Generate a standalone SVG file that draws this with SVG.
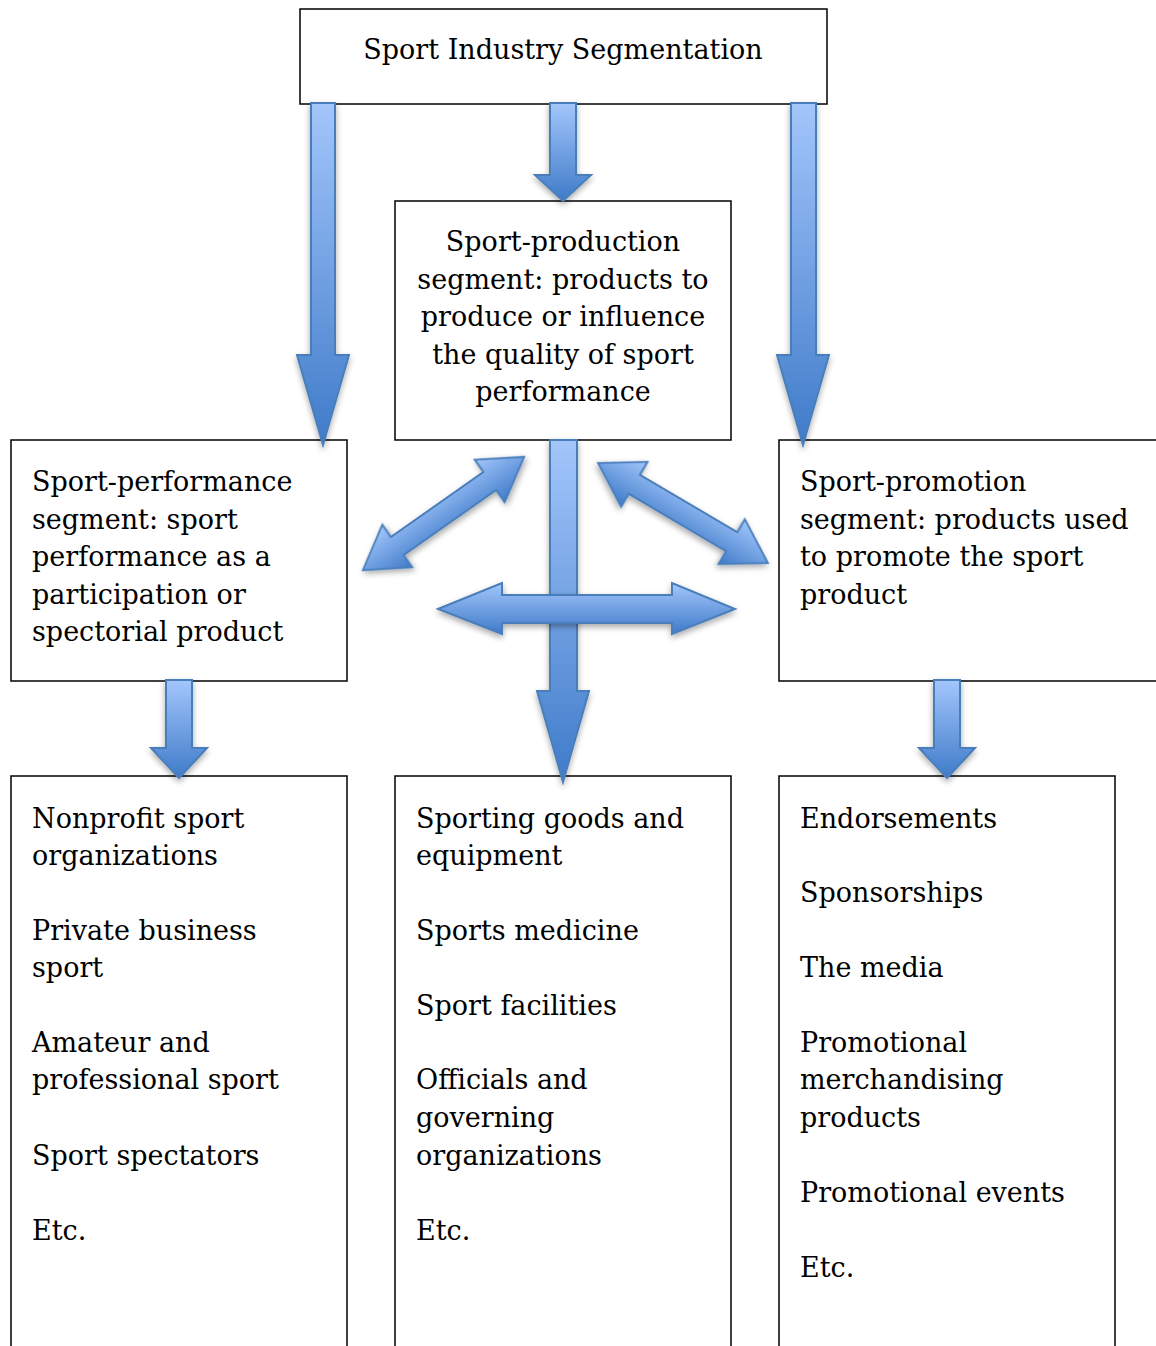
<svg xmlns="http://www.w3.org/2000/svg" width="1156" height="1346" viewBox="0 0 1156 1346">
<style>
.box{fill:#fff;stroke:#000;stroke-width:1.5}
.t{font-family:"DejaVu Serif","Liberation Serif",serif;font-size:27px;fill:#000}
.c{text-anchor:middle}
.arr{fill:url(#gv);stroke:#4a7ebb;stroke-width:2;stroke-linejoin:miter;filter:url(#sh)}
.arrh{fill:url(#gh);stroke:#4a7ebb;stroke-width:2;filter:url(#sh)}
</style>
<defs>
<linearGradient id="gv" x1="0" y1="0" x2="0" y2="1">
<stop offset="0" stop-color="#a3c6fb"/>
<stop offset="1" stop-color="#3f7bc9"/>
</linearGradient>
<linearGradient id="gh" x1="0" y1="0" x2="0" y2="1">
<stop offset="0" stop-color="#a3c6fb"/>
<stop offset="1" stop-color="#3f7bc9"/>
</linearGradient>
<filter id="sh" x="-20%" y="-20%" width="140%" height="140%">
<feGaussianBlur in="SourceAlpha" stdDeviation="3"/>
<feOffset dx="0" dy="3" result="b"/>
<feComponentTransfer><feFuncA type="linear" slope="0.35"/></feComponentTransfer>
<feMerge><feMergeNode/><feMergeNode in="SourceGraphic"/></feMerge>
</filter>
</defs>

<g id="node-top">
<rect class="box" x="300" y="9" width="527" height="95"/>
<text class="t c" x="563" y="59">Sport Industry Segmentation</text>
</g>

<g id="node-production">
<rect class="box" x="395" y="201" width="336" height="239"/>
<text class="t c" x="563" y="251">Sport-production</text>
<text class="t c" x="563" y="289">segment: products to</text>
<text class="t c" x="563" y="326">produce or influence</text>
<text class="t c" x="563" y="364">the quality of sport</text>
<text class="t c" x="563" y="401">performance</text>
</g>

<g id="node-performance">
<rect class="box" x="11" y="440" width="336" height="241"/>
<text class="t" x="32" y="491">Sport-performance</text>
<text class="t" x="32" y="529">segment: sport</text>
<text class="t" x="32" y="566">performance as a</text>
<text class="t" x="32" y="604">participation or</text>
<text class="t" x="32" y="641">spectorial product</text>
</g>

<g id="node-promotion">
<rect class="box" x="779" y="440" width="390" height="241"/>
<text class="t" x="800" y="491">Sport-promotion</text>
<text class="t" x="800" y="529">segment: products used</text>
<text class="t" x="800" y="566">to promote the sport</text>
<text class="t" x="800" y="604">product</text>
</g>

<g id="node-perf-list">
<rect class="box" x="11" y="776" width="336" height="590"/>
<text class="t" x="32" y="828">Nonprofit sport</text>
<text class="t" x="32" y="865">organizations</text>
<text class="t" x="32" y="940">Private business</text>
<text class="t" x="32" y="977">sport</text>
<text class="t" x="32" y="1052">Amateur and</text>
<text class="t" x="32" y="1089">professional sport</text>
<text class="t" x="32" y="1165">Sport spectators</text>
<text class="t" x="32" y="1240">Etc.</text>
</g>

<g id="node-prod-list">
<rect class="box" x="395" y="776" width="336" height="590"/>
<text class="t" x="416" y="828">Sporting goods and</text>
<text class="t" x="416" y="865">equipment</text>
<text class="t" x="416" y="940">Sports medicine</text>
<text class="t" x="416" y="1015">Sport facilities</text>
<text class="t" x="416" y="1089">Officials and</text>
<text class="t" x="416" y="1127">governing</text>
<text class="t" x="416" y="1165">organizations</text>
<text class="t" x="416" y="1240">Etc.</text>
</g>

<g id="node-promo-list">
<rect class="box" x="779" y="776" width="336" height="590"/>
<text class="t" x="800" y="828">Endorsements</text>
<text class="t" x="800" y="902">Sponsorships</text>
<text class="t" x="800" y="977">The media</text>
<text class="t" x="800" y="1052">Promotional</text>
<text class="t" x="800" y="1089">merchandising</text>
<text class="t" x="800" y="1127">products</text>
<text class="t" x="800" y="1202">Promotional events</text>
<text class="t" x="800" y="1277">Etc.</text>
</g>

<g id="connectors">
<!-- top to performance -->
<polygon class="arr" points="311,103 335,103 335,355 349,355 323,445 297,355 311,355"/>
<!-- top to production -->
<polygon class="arr" points="550,103 576,103 576,175 591,175 563,201 535,175 550,175"/>
<!-- top to promotion -->
<polygon class="arr" points="791,103 816,103 816,355 829,355 803,445 777,355 791,355"/>
<!-- performance to list -->
<polygon class="arr" points="166,680 192,680 192,748 207,748 179,778 151,748 166,748"/>
<!-- promotion to list -->
<polygon class="arr" points="934,680 960,680 960,748 975,748 947,778 919,748 934,748"/>
<!-- production to list -->
<polygon class="arr" points="550,440 577,440 577,691 589,691 563,782 537,691 550,691"/>
<!-- horizontal double arrow -->
<polygon class="arrh" points="438,609 502,583 502,595 672,595 672,583 735,609 672,634 672,623 502,623 502,634"/>
<!-- left diagonal double arrow -->
<g transform="translate(443.5,513.5) rotate(-35.1)">
<polygon class="arrh" points="-98.5,0 -56.5,-26 -56.5,-11 56.5,-11 56.5,-26 98.5,0 56.5,26 56.5,11 -56.5,11 -56.5,26"/>
</g>
<!-- right diagonal double arrow -->
<g transform="translate(683,513) rotate(30.5)">
<polygon class="arrh" points="-98.5,0 -56.5,-26 -56.5,-11 56.5,-11 56.5,-26 98.5,0 56.5,26 56.5,11 -56.5,11 -56.5,26"/>
</g>
</g>
</svg>
